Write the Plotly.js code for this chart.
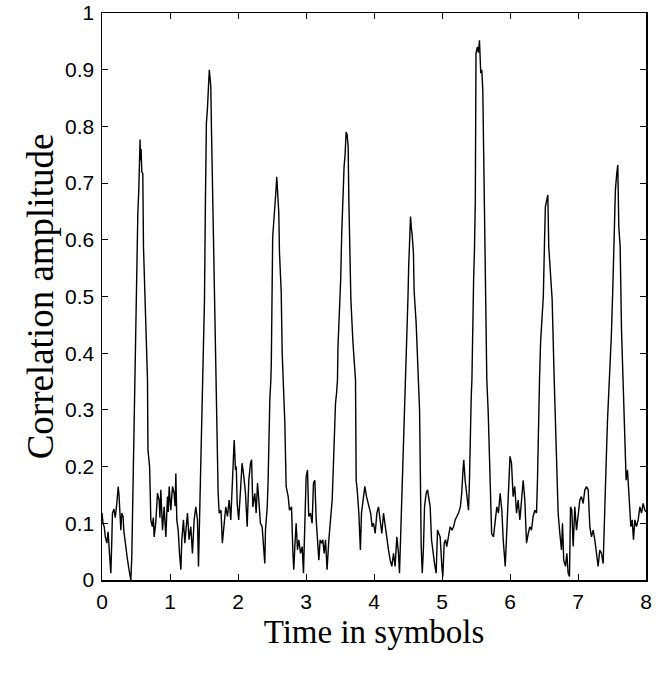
<!DOCTYPE html>
<html>
<head>
<meta charset="utf-8">
<script src="https://cdn.plot.ly/plotly-3.0.1.min.js"></script>
<style>html,body{margin:0;padding:0;background:#fff;}#chart{width:658px;height:673px;}</style>
</head>
<body>
<div id="chart"></div>
<script>
// Time in symbols
const timeSymbols = [
0.0,0.015,0.032,0.05,0.071,0.09,0.11,0.13,0.142,0.154,0.175,0.195,0.218,0.238,0.25,0.262,0.277,0.29,0.31,0.32,0.346,0.37,0.395,0.414,0.424,0.438,0.449,0.462,0.473,0.483,0.5,0.515,0.527,0.54,0.55,0.556,0.56,0.566,0.575,0.585,0.6,0.61,0.625,0.64,0.655,0.669,0.676,0.69,0.70,0.71,0.718,0.74,0.755,0.767,0.79,0.805,0.816,0.84,0.852,0.865,0.89,0.914,0.927,0.939,0.963,0.975,0.988,
1.012,1.037,1.06,1.075,1.086,1.1,1.12,1.14,1.16,1.174,1.198,1.218,1.238,1.257,1.28,1.306,1.33,1.355,1.38,1.404,1.419,1.434,1.453,1.468,1.483,1.495,1.507,1.52,1.535,1.55,1.565,1.578,1.59,1.6,1.61,1.63,1.64,1.652,1.662,1.674,1.684,1.708,1.723,1.75,1.77,1.797,1.82,1.845,1.87,1.894,1.92,1.944,1.963,1.975,1.988,
2.01,2.037,2.06,2.086,2.11,2.135,2.159,2.184,2.2,2.218,2.247,2.267,2.287,2.306,2.33,2.355,2.375,2.394,2.404,2.43,2.443,2.453,2.468,2.483,2.49,2.51,2.54,2.56,2.57,2.585,2.6,2.61,2.635,2.65,2.664,2.675,2.689,2.708,2.738,2.757,2.787,2.806,2.82,2.836,2.855,2.875,2.894,2.92,2.944,2.963,2.983,
3.002,3.022,3.04,3.066,3.09,3.11,3.13,3.15,3.17,3.189,3.208,3.228,3.247,3.267,3.287,3.31,3.336,3.36,3.385,3.404,3.419,3.434,3.449,3.463,3.47,3.49,3.51,3.525,3.54,3.56,3.575,3.59,3.605,3.62,3.63,3.64,3.66,3.69,3.71,3.728,3.738,3.753,3.777,3.8,3.816,3.84,3.865,3.89,3.924,3.95,3.973,3.993,
4.017,4.042,4.066,4.09,4.115,4.14,4.164,4.19,4.213,4.238,4.262,4.287,4.31,4.336,4.36,4.375,4.394,4.414,4.434,4.45,4.468,4.48,4.5,4.51,4.52,4.537,4.55,4.56,4.58,4.59,4.62,4.64,4.654,4.67,4.68,4.694,4.71,4.728,4.743,4.767,4.787,4.806,4.826,4.846,4.865,4.89,4.914,4.934,4.953,4.973,4.998,
5.012,5.032,5.052,5.07,5.096,5.12,5.145,5.17,5.194,5.22,5.243,5.27,5.29,5.306,5.32,5.34,5.365,5.39,5.404,5.414,5.43,5.44,5.45,5.465,5.478,5.49,5.5,5.52,5.535,5.551,5.57,5.585,5.6,5.62,5.645,5.659,5.68,5.7,5.73,5.757,5.78,5.806,5.83,5.855,5.88,5.9,5.93,5.95,5.978,
6.0,6.022,6.046,6.07,6.096,6.12,6.145,6.17,6.194,6.218,6.243,6.268,6.292,6.316,6.34,6.365,6.39,6.404,6.414,6.434,6.45,6.49,6.507,6.52,6.54,6.556,6.57,6.59,6.62,6.65,6.669,6.689,6.708,6.733,6.757,6.772,6.79,6.816,6.836,6.855,6.875,6.89,6.909,6.929,6.953,6.978,
7.002,7.027,7.05,7.076,7.1,7.125,7.15,7.174,7.198,7.223,7.247,7.272,7.296,7.32,7.345,7.37,7.385,7.4,7.414,7.434,7.454,7.468,7.49,7.51,7.537,7.55,7.57,7.585,7.6,7.62,7.64,7.664,7.689,7.708,7.728,7.748,7.762,7.777,7.797,7.816,7.836,7.86,7.885,7.91,7.934,7.958,7.983,8.0
];
// Correlation amplitude
const amplitude = [
0.118,0.10,0.094,0.075,0.065,0.085,0.047,0.012,0.06,0.118,0.125,0.11,0.135,0.165,0.15,0.118,0.088,0.118,0.112,0.088,0.059,0.04,0.02,0.001,0.0,0.04,0.118,0.2,0.265,0.35,0.53,0.6,0.647,0.685,0.72,0.77,0.777,0.74,0.76,0.72,0.717,0.588,0.53,0.494,0.41,0.353,0.229,0.21,0.2,0.15,0.106,0.094,0.11,0.076,0.1,0.13,0.153,0.141,0.11,0.159,0.088,0.129,0.1,0.076,0.147,0.12,0.165,
0.123,0.165,0.153,0.13,0.188,0.106,0.088,0.047,0.018,0.071,0.106,0.065,0.094,0.118,0.071,0.094,0.047,0.106,0.129,0.106,0.024,0.106,0.176,0.265,0.353,0.42,0.494,0.658,0.805,0.83,0.88,0.9,0.885,0.87,0.794,0.67,0.553,0.494,0.42,0.353,0.3,0.153,0.118,0.123,0.065,0.094,0.129,0.112,0.141,0.106,0.194,0.247,0.194,0.2,0.135,
0.106,0.159,0.206,0.182,0.153,0.094,0.176,0.206,0.212,0.129,0.153,0.118,0.171,0.141,0.1,0.094,0.053,0.029,0.088,0.129,0.176,0.265,0.318,0.353,0.383,0.605,0.67,0.69,0.711,0.68,0.647,0.577,0.51,0.40,0.353,0.30,0.276,0.165,0.147,0.123,0.129,0.053,0.018,0.059,0.1,0.053,0.071,0.047,0.059,0.012,0.094,
0.182,0.194,0.112,0.118,0.1,0.171,0.176,0.106,0.076,0.035,0.071,0.065,0.071,0.047,0.071,0.018,0.071,0.106,0.141,0.206,0.265,0.312,0.329,0.353,0.41,0.47,0.53,0.61,0.67,0.729,0.75,0.79,0.785,0.764,0.67,0.61,0.494,0.42,0.383,0.353,0.176,0.159,0.118,0.053,0.118,0.141,0.165,0.147,0.129,0.118,0.094,0.1,
0.082,0.118,0.129,0.106,0.082,0.118,0.094,0.065,0.053,0.035,0.024,0.047,0.024,0.076,0.047,0.012,0.082,0.153,0.265,0.3,0.353,0.42,0.5,0.553,0.6,0.641,0.62,0.61,0.577,0.51,0.453,0.38,0.353,0.30,0.206,0.059,0.012,0.059,0.129,0.153,0.159,0.147,0.129,0.071,0.047,0.029,0.012,0.088,0.082,0.076,0.024,
0.006,0.065,0.071,0.059,0.082,0.094,0.088,0.094,0.106,0.112,0.118,0.129,0.153,0.188,0.212,0.176,0.153,0.123,0.176,0.265,0.324,0.353,0.447,0.53,0.585,0.67,0.929,0.94,0.93,0.952,0.894,0.9,0.864,0.688,0.494,0.353,0.294,0.206,0.082,0.076,0.106,0.129,0.118,0.153,0.123,0.071,0.024,0.088,0.176,
0.218,0.206,0.147,0.165,0.118,0.141,0.106,0.141,0.176,0.141,0.065,0.082,0.094,0.088,0.112,0.123,0.118,0.176,0.265,0.353,0.42,0.5,0.594,0.658,0.67,0.679,0.588,0.547,0.494,0.353,0.265,0.212,0.118,0.082,0.053,0.1,0.035,0.024,0.047,0.012,0.006,0.129,0.123,0.059,0.129,0.088,
0.118,0.141,0.147,0.135,0.159,0.165,0.159,0.094,0.076,0.088,0.071,0.047,0.024,0.053,0.047,0.029,0.106,0.159,0.206,0.282,0.329,0.353,0.43,0.506,0.635,0.688,0.717,0.732,0.623,0.588,0.44,0.353,0.235,0.176,0.194,0.159,0.118,0.094,0.106,0.071,0.106,0.094,0.106,0.129,0.118,0.135,0.123,0.12
];
const xTickVals = [0,1,2,3,4,5,6,7,8];
const yTickVals = [0,0.1,0.2,0.3,0.4,0.5,0.6,0.7,0.8,0.9,1];
const yTickText = ['0','0.1','0.2','0.3','0.4','0.5','0.6','0.7','0.8','0.9','1'];

const trace = {
  x: timeSymbols, y: amplitude, type: 'scatter', mode: 'lines',
  line: {color: '#000', width: 1.4}, hoverinfo: 'skip'
};
const axisCommon = {
  showline: true, linecolor: '#000', linewidth: 1.5, mirror: 'ticks',
  ticks: 'inside', ticklen: 6, tickwidth: 1, tickcolor: '#000',
  showgrid: false, zeroline: false,
  tickfont: {family: 'Liberation Sans, Arial, sans-serif', size: 21, color: '#000'}
};
const layout = {
  width: 658, height: 673,
  margin: {l: 102, r: 12, t: 13, b: 93},
  paper_bgcolor: '#fff', plot_bgcolor: '#fff',
  showlegend: false,
  xaxis: Object.assign({}, axisCommon, {
    range: [0, 8], tickvals: xTickVals, ticktext: xTickVals.map(String),
    ticklabelstandoff: 2,
    title: {text: 'Time in symbols', standoff: 8,
      font: {family: 'Liberation Serif, Times New Roman, serif', size: 33, color: '#000'}}
  }),
  yaxis: Object.assign({}, axisCommon, {
    range: [0, 1], tickvals: yTickVals, ticktext: yTickText,
    ticklabelstandoff: 2,
    title: {text: 'Correlation amplitude', standoff: 0,
      font: {family: 'Liberation Serif, Times New Roman, serif', size: 37, color: '#000'}}
  })
};
Plotly.newPlot('chart', [trace], layout, {staticPlot: true, displayModeBar: false});
</script>
</body>
</html>
